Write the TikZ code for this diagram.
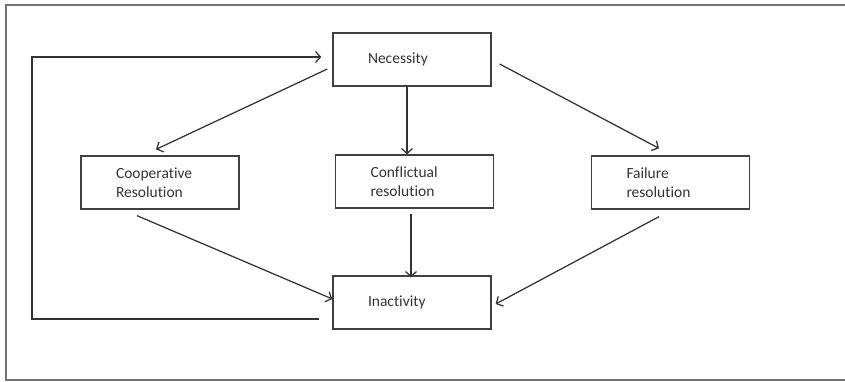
\documentclass[tikz,border=0pt]{standalone}
\usepackage{fontspec}
\setmainfont{Carlito}[Ligatures=NoCommon]
\usetikzlibrary{arrows.meta}

\begin{document}
\begin{tikzpicture}[x=1pt,y=-1pt,font=\fontsize{15.5}{19.5}\selectfont,
    box/.style={draw=black!75,line width=1.3pt,minimum width=158pt,minimum height=53pt,
      text width=88pt,inner xsep=0pt,align=left,text=black!80},
    link/.style={draw=black!80,line width=1.25pt,-{Straight Barb[length=5pt,width=11pt]}}]
  \useasboundingbox (0,0) rectangle (845,381);
  \draw[black!55,line width=1.3pt] (850,5) -- (6,5) -- (6,380) -- (850,380);

  \node[box] (necessity) at (412,59.5) {Necessity};
  \node[box] (coop) at (160,182.5) {Cooperative\\Resolution};
  \node[box] (confl) at (414.5,181.5) {Conflictual\\resolution};
  \node[box] (fail) at (670.5,182.5) {Failure\\resolution};
  \node[box] (inact) at (412,302.5) {Inactivity};

  \draw[link] ([shift={(-5,9.5)}]necessity.west) -- ([shift={(-4,-6)}]coop.north);
  \draw[link] ([xshift=-5]necessity.south) -- ([xshift=-7.5]confl.north);
  \draw[link] ([shift={(8,4.5)}]necessity.east) -- ([shift={(-11.5,-7)}]fail.north);

  \draw[link] ([shift={(-23,6)}]coop.south) -- ([yshift=3.5]inact.west);
  \draw[link] ([shift={(-3.5,5)}]confl.south) -- ([shift={(-1,2)}]inact.north);
  \draw[link] ([shift={(-11.5,7)}]fail.south) -- ([shift={(4,1.5)}]inact.east);

  \coordinate (back) at ([shift={(-13,16.5)}]inact.west);
  \coordinate (rail) at (32,0);
  \draw[link] (back) -- (back -| rail) |- ([shift={(-11,-2.5)}]necessity.west);
\end{tikzpicture}
\end{document}
